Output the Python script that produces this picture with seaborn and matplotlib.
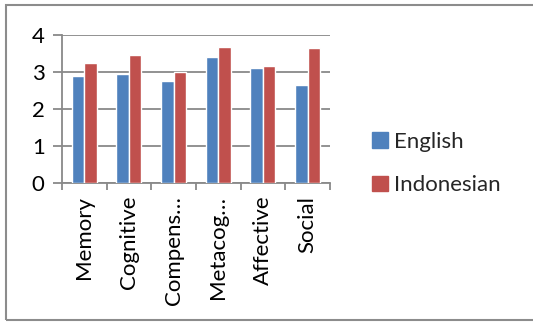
import matplotlib
matplotlib.use("Agg")
import matplotlib.pyplot as plt
import matplotlib.patches as mpatches
import seaborn as sns
import pandas as pd

# Dados
categorias = ["Memory", "Cognitive", "Compens…", "Metacog…", "Affective", "Social"]
english = [2.89, 2.95, 2.75, 3.41, 3.10, 2.66]
indonesian = [3.25, 3.45, 3.01, 3.66, 3.16, 3.65]
series = ["English", "Indonesian"]
cores = ["#4F81BD", "#C0504D"]
yticks = [0, 1, 2, 3, 4]

df = pd.DataFrame({
    "categoria": categorias * 2,
    "valor": english + indonesian,
    "serie": [series[0]] * len(categorias) + [series[1]] * len(categorias),
})

sns.set_theme(style="white")
plt.rcParams["font.family"] = ["Lato", "DejaVu Sans"]
fs = 16

fig = plt.figure(figsize=(5.33, 3.22), dpi=100)
ax = fig.add_axes([0.1163, 0.431, 0.619 - 0.1163, 0.892 - 0.431])

sns.barplot(data=df, x="categoria", y="valor", hue="serie", palette=cores,
            width=0.56, saturation=1, ax=ax, legend=False, zorder=3)

ax.set_ylim(0, 4)
ax.set_xlim(-0.5, len(categorias) - 0.5)
ax.set_yticks(yticks)
ax.set_yticklabels([str(v) for v in yticks], fontsize=fs, color="black")
ax.set_xlabel("")
ax.set_ylabel("")

# grade e eixos no estilo do Excel
ax.yaxis.grid(True, color="#898989", linewidth=1.3, zorder=0)
ax.set_axisbelow(True)
for lado in ["top", "right"]:
    ax.spines[lado].set_visible(False)
for lado in ["left", "bottom"]:
    ax.spines[lado].set_color("#898989")
    ax.spines[lado].set_linewidth(1.3)

ax.tick_params(axis="y", left=True, length=6.5, width=1.3, color="#898989", pad=6)
ax.set_xticks(range(len(categorias)))
ax.set_xticklabels(categorias, rotation=90, fontsize=fs, color="black")
ax.tick_params(axis="x", which="major", length=0, pad=9)
ax.set_xticks([i - 0.5 for i in range(len(categorias) + 1)], minor=True)
ax.tick_params(axis="x", which="minor", bottom=True, length=5, width=1.3, color="#898989")

handles = [mpatches.Patch(color=c, label=s) for c, s in zip(cores, series)]
fig.legend(handles=handles, loc="center left", bbox_to_anchor=(0.698, 0.492),
           frameon=False, fontsize=fs, handlelength=0.7, handleheight=0.7,
           handletextpad=0.3, labelspacing=1.05, borderpad=0, borderaxespad=0)

# moldura do gráfico
fig.patches.append(mpatches.Rectangle((0.011, 0.006), 1.2, 0.978, transform=fig.transFigure,
                                      fill=False, edgecolor="#8C8C8C", linewidth=1.5))

fig.savefig("out.png", dpi=100)
